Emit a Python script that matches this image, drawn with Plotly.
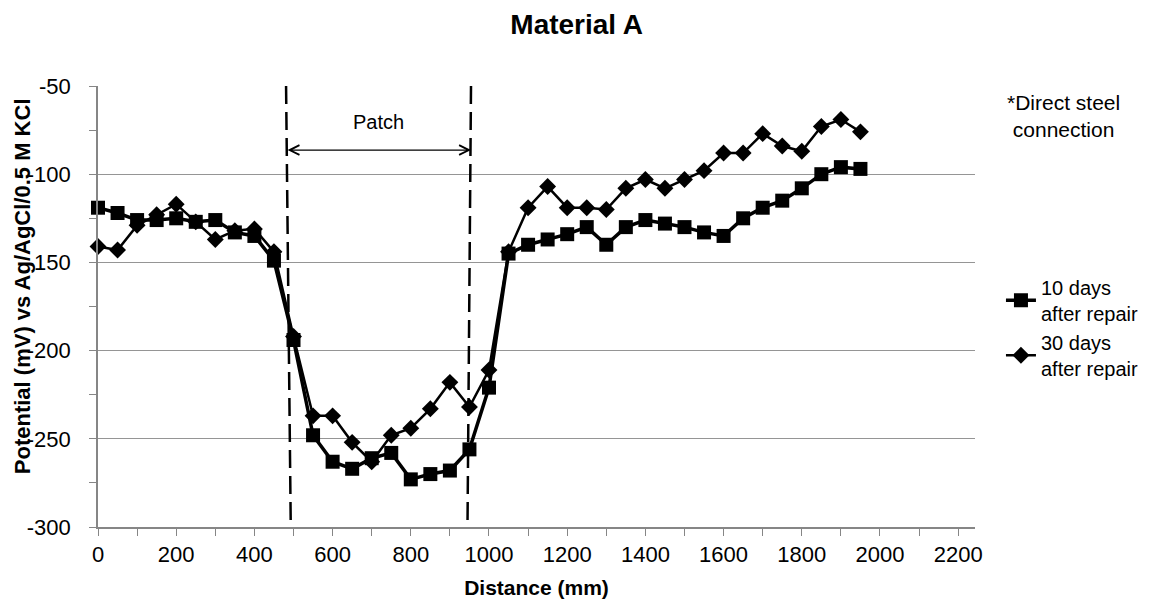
import plotly.graph_objects as go

# ---- data ----
distance_mm = [0, 50, 100, 150, 200, 250, 300, 350, 400, 450,
               500, 550, 600, 650, 700, 750, 800, 850, 900, 950,
               1000, 1050, 1100, 1150, 1200, 1250, 1300, 1350, 1400, 1450,
               1500, 1550, 1600, 1650, 1700, 1750, 1800, 1850, 1900, 1950]

days10 = [-119, -122, -126, -126, -125, -127, -126, -133, -135, -149,
          -194, -248, -263, -267, -261, -258, -273, -270, -268, -256,
          -221, -145, -140, -137, -134, -130, -140, -130, -126, -128,
          -130, -133, -135, -125, -119, -115, -108, -100, -96, -97]

days30 = [-141, -143, -129, -123, -117, -127, -137, -132, -131, -144,
          -192, -237, -237, -252, -263, -248, -244, -233, -218, -232,
          -211, -144, -119, -107, -119, -119, -120, -108, -103, -108,
          -103, -98, -88, -88, -77, -84, -87, -73, -69, -76]

y_tick_vals = [-300, -250, -200, -150, -100, -50]
y_tick_text = ["-300", "-250", "-200", "-150", "-100", "-50"]
x_tick_vals = [0, 200, 400, 600, 800, 1000, 1200, 1400, 1600, 1800, 2000, 2200]
x_tick_text = ["0", "200", "400", "600", "800", "1000", "1200", "1400",
               "1600", "1800", "2000", "2200"]

# patch boundaries (mm): dashed lines are slightly slanted in the original
patch_left = (481, 493)    # (top, bottom)
patch_right = (954, 945)   # (top, bottom)

FONT = "Liberation Sans, Arial, sans-serif"
GRID = "#959595"
AXIS = "#868686"

fig = go.Figure()
fig.add_trace(go.Scatter(
    x=distance_mm, y=days10, mode="lines+markers",
    name="10 days<br>after repair",
    line=dict(color="black", width=3.5),
    marker=dict(symbol="square", size=14, color="black"),
    cliponaxis=False,
))
fig.add_trace(go.Scatter(
    x=distance_mm, y=days30, mode="lines+markers",
    name="30 days<br>after repair",
    line=dict(color="black", width=2.5),
    marker=dict(symbol="diamond", size=13, color="black"),
    cliponaxis=False,
))

# dashed patch boundaries
for top, bottom in (patch_left, patch_right):
    fig.add_shape(type="line", xref="x", yref="y",
                  x0=top, y0=-50, x1=bottom, y1=-300,
                  line=dict(color="black", width=2.5, dash="18px,8px"),
                  layer="above")

# double-headed "Patch" arrow
fig.add_annotation(x=patch_right[0], y=-86.3, ax=patch_left[0], ay=-86.3,
                   xref="x", yref="y", axref="x", ayref="y",
                   text="", showarrow=True, arrowside="end+start",
                   arrowhead=5, arrowsize=1.6, arrowwidth=1.2,
                   arrowcolor="black")
fig.add_annotation(x=(patch_left[0] + patch_right[0]) / 2, y=-70.4,
                   xref="x", yref="y", text="Patch", showarrow=False,
                   font=dict(family=FONT, size=20, color="black"))

fig.add_annotation(x=1.101, y=0.931, xref="paper", yref="paper",
                   xanchor="center", yanchor="middle",
                   text="*Direct steel<br>connection", showarrow=False,
                   font=dict(family=FONT, size=21, color="black"),
                   align="center")

# y-axis title as a rotated annotation for exact placement
fig.add_annotation(x=-0.0867, y=0.546, xref="paper", yref="paper",
                   xanchor="center", yanchor="middle", textangle=-90,
                   text="<b>Potential (mV) vs Ag/AgCl/0.5 M KCl</b>",
                   showarrow=False,
                   font=dict(family=FONT, size=22, color="black"))

# page has an 8px body margin, so the figure is drawn 8px smaller
fig.update_layout(
    width=1142, height=591,
    margin=dict(l=90, r=175, t=78, b=72, autoexpand=False),
    paper_bgcolor="white", plot_bgcolor="white",
    font=dict(family=FONT, size=22, color="black"),
    title=dict(text="<b>Material A</b>", x=0.498, xanchor="center",
               y=1 - 16 / 591, yanchor="middle", yref="container",
               font=dict(family=FONT, size=28, color="black")),
    showlegend=True,
    legend=dict(x=1.0296, y=0.588, xanchor="left", yanchor="top",
                font=dict(family=FONT, size=20, color="black"),
                bgcolor="rgba(0,0,0,0)", tracegroupgap=15),
)

fig.update_xaxes(
    range=[0, 2243], automargin=False,
    tickmode="array", tickvals=x_tick_vals, ticktext=x_tick_text,
    ticks="outside", ticklen=7, tickcolor=AXIS, tickwidth=1,
    minor=dict(dtick=100, tick0=0, ticks="outside", ticklen=7,
               tickcolor=AXIS, showgrid=False),
    showline=True, linecolor=AXIS, linewidth=1.5,
    showgrid=False, zeroline=False,
    tickfont=dict(family=FONT, size=22, color="black"),
    title=dict(text="<b>Distance (mm)</b>", standoff=14,
               font=dict(family=FONT, size=21, color="black")),
)
fig.update_yaxes(
    range=[-300, -50], automargin=False,
    tickmode="array", tickvals=y_tick_vals, ticktext=y_tick_text,
    ticks="outside", ticklen=7, tickcolor=AXIS, tickwidth=1,
    minor=dict(dtick=25, tick0=0, ticks="outside", ticklen=7,
               tickcolor=AXIS, showgrid=False),
    showline=True, linecolor=AXIS, linewidth=1.5,
    showgrid=True, gridcolor=GRID, gridwidth=1.2, zeroline=False,
    ticklabelstandoff=14,
    tickfont=dict(family=FONT, size=22, color="black"),
)

fig.write_html("out.html")
